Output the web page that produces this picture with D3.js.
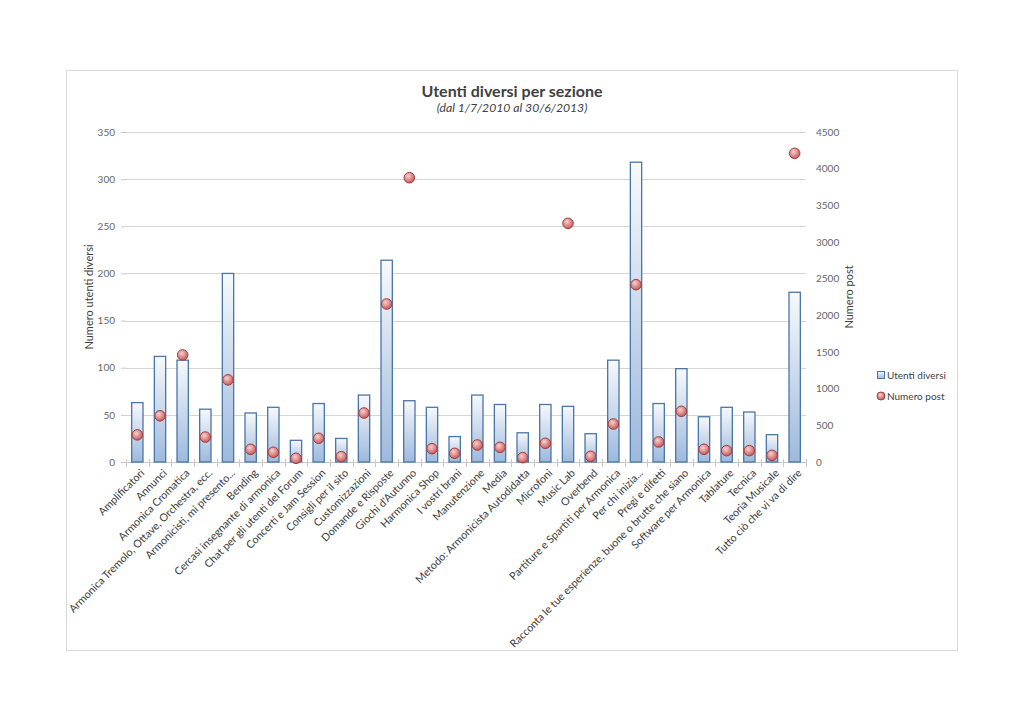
<!DOCTYPE html>
<html><head><meta charset="utf-8">
<script src="https://cdn.jsdelivr.net/npm/d3@7"></script>
<style>
body{margin:0;background:#fff;}
svg text{font-family:Lato,"Open Sans",sans-serif;}
</style></head>
<body><svg id="c" width="1024" height="724"></svg>
<script>
const categories = ["Amplificatori","Annunci","Armonica Cromatica","Armonica Tremolo, Ottave, Orchestra, ecc.","Armonicisti, mi presento...","Bending","Cercasi insegnante di armonica","Chat per gli utenti del Forum","Concerti e Jam Session","Consigli per il sito","Customizzazioni","Domande e Risposte","Giochi d'Autunno","Harmonica Shop","I vostri brani","Manutenzione","Media","Metodo: Armonicista Autodidatta","Microfoni","Music Lab","Overbend","Partiture e Spartiti per Armonica","Per chi inizia...","Pregi e difetti","Racconta le tue esperienze, buone o brutte che siano","Software per Armonica","Tablature","Tecnica","Teoria Musicale","Tutto ciò che vi va di dire"];
const utentiDiversi = [63,112,108,56,200,52,58,23,62,25,71,214,65,58,27,71,61,31,61,59,30,108,318,62,99,48,58,53,29,180];
const numeroPost = [370,630,1460,340,1120,173,132,50,323,73,668,2155,3877,182,118,232,200,59,255,3255,77,518,2418,273,691,173,155,155,91,4209];
const leftTicks = [0,50,100,150,200,250,300,350];
const rightTicks = [0,500,1000,1500,2000,2500,3000,3500,4000,4500];

const svg = d3.select("#c");
const defs = svg.append("defs");
const lg = defs.append("linearGradient").attr("id","barGrad").attr("x1",0).attr("y1",0).attr("x2",0).attr("y2",1);
lg.append("stop").attr("offset","0%").attr("stop-color","#f7f9fc");
lg.append("stop").attr("offset","100%").attr("stop-color","#9db9dc");
const rg = defs.append("radialGradient").attr("id","dotGrad").attr("cx","40%").attr("cy","35%").attr("r","65%");
rg.append("stop").attr("offset","0%").attr("stop-color","#f6d0d0");
rg.append("stop").attr("offset","100%").attr("stop-color","#c85a58");

// frame
svg.append("rect").attr("x",66.5).attr("y",70.5).attr("width",891).attr("height",580)
  .attr("fill","#fff").attr("stroke","#d9d9d9").attr("stroke-width",1);

const x = d3.scaleBand().domain(categories).range([126,806]).paddingInner(0.5).paddingOuter(0.25);
const yL = d3.scaleLinear().domain([0,350]).range([462,132]);
const yR = d3.scaleLinear().domain([0,4500]).range([462,132]);

// gridlines
svg.append("g").selectAll("line").data(leftTicks.filter(d=>d>0)).join("line")
  .attr("x1",126).attr("x2",806).attr("y1",d=>Math.round(yL(d))+0.5).attr("y2",d=>Math.round(yL(d))+0.5)
  .attr("stroke","#d4d4d4").attr("stroke-width",1);

// left axis
const gL = svg.append("g").attr("transform","translate(126,0)")
  .call(d3.axisLeft(yL).tickValues(leftTicks).tickSize(5).tickPadding(6).tickFormat(d3.format("d")));
gL.select(".domain").remove();
gL.selectAll(".tick line").attr("stroke","#c8c8c8");
gL.selectAll("text").attr("fill","#666").attr("font-size","10px");

// right axis
const gR = svg.append("g").attr("transform","translate(806,0)")
  .call(d3.axisRight(yR).tickValues(rightTicks).tickSize(0).tickPadding(10).tickFormat(d3.format("d")));
gR.select(".domain").remove();
gR.selectAll("text").attr("fill","#666").attr("font-size","10px");

// bottom axis
svg.append("line").attr("x1",126).attr("x2",806).attr("y1",462.5).attr("y2",462.5).attr("stroke","#c8c8c8");
const bounds = d3.range(categories.length+1).map(i=>126 + i*x.step());
svg.append("g").selectAll("line").data(bounds).join("line")
  .attr("x1",d=>Math.round(d)+0.5).attr("x2",d=>Math.round(d)+0.5).attr("y1",459).attr("y2",467)
  .attr("stroke","#c8c8c8");

// bars
svg.append("g").selectAll("rect").data(categories).join("rect")
  .attr("x",(d)=>x(d)).attr("width",x.bandwidth())
  .attr("y",(d,i)=>yL(utentiDiversi[i])).attr("height",(d,i)=>462-yL(utentiDiversi[i]))
  .attr("fill","url(#barGrad)").attr("stroke","#4a76a8").attr("stroke-width",1.3);

// dots
svg.append("g").selectAll("circle").data(categories).join("circle")
  .attr("cx",d=>x(d)+x.bandwidth()/2).attr("cy",(d,i)=>yR(numeroPost[i])).attr("r",5.3)
  .attr("fill","url(#dotGrad)").attr("stroke","#a23f3d").attr("stroke-width",1);

// x labels
svg.append("g").selectAll("text").data(categories).join("text")
  .attr("transform",d=>`translate(${x(d)+x.bandwidth()/2+5},${471}) rotate(-45)`)
  .attr("text-anchor","end").attr("dy","0.35em").attr("font-size","10.7px").attr("fill","#3a3a3a")
  .text(d=>d);

// titles
svg.append("text").attr("x",512).attr("y",97).attr("text-anchor","middle")
  .attr("font-size","16px").attr("font-weight","bold").attr("fill","#404040").text("Utenti diversi per sezione");
svg.append("text").attr("x",512).attr("y",112).attr("text-anchor","middle")
  .attr("font-size","12.2px").attr("font-style","italic").attr("fill","#404040").text("(dal 1/7/2010 al 30/6/2013)");

svg.append("text").attr("transform","translate(93,297) rotate(-90)").attr("text-anchor","middle")
  .attr("font-size","11px").attr("fill","#404040").text("Numero utenti diversi");
svg.append("text").attr("transform","translate(853,297) rotate(-90)").attr("text-anchor","middle")
  .attr("font-size","11px").attr("fill","#404040").text("Numero post");

// legend
const lgd = svg.append("g");
lgd.append("rect").attr("x",877.5).attr("y",371.5).attr("width",7).attr("height",7)
  .attr("fill","url(#barGrad)").attr("stroke","#4a76a8");
lgd.append("text").attr("x",887).attr("y",375).attr("dy","0.35em").attr("font-size","10px").attr("fill","#404040").text("Utenti diversi");
lgd.append("circle").attr("cx",881).attr("cy",396).attr("r",4)
  .attr("fill","url(#dotGrad)").attr("stroke","#a23f3d");
lgd.append("text").attr("x",887).attr("y",396).attr("dy","0.35em").attr("font-size","10px").attr("fill","#404040").text("Numero post");
</script></body></html>
